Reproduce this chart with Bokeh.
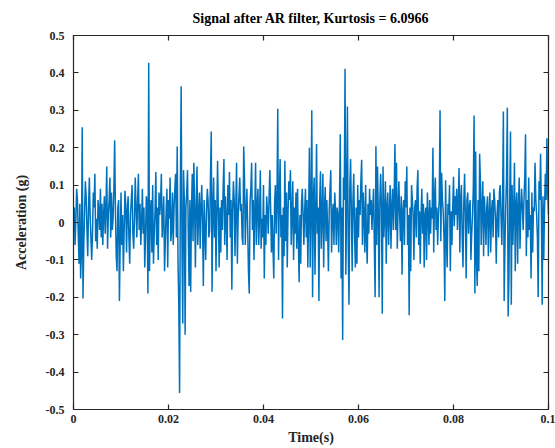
from bokeh.plotting import figure
from bokeh.models import Range1d, LinearAxis, FixedTicker, NumeralTickFormatter, CustomJSTickFormatter
from bokeh.embed import file_html
from bokeh.resources import INLINE
import numpy as np

TITLE = "Signal after AR filter, Kurtosis = 6.0966"
X_LABEL = "Time(s)"
Y_LABEL = "Acceleration (g)"
X_TICKS = [0, 0.02, 0.04, 0.06, 0.08, 0.1]
Y_TICKS = [-0.5, -0.4, -0.3, -0.2, -0.1, 0, 0.1, 0.2, 0.3, 0.4, 0.5]
SAMPLE_RATE = 6000  # Hz

# acceleration samples in milli-g
ACC_MG = [
    -20, 40, -60, 10, 90, 60, -30, -110, 50, -150, -80, 255, -203, -60, 30, 110, 70, -20, -90, 40,
    120, 20, -40, -100, -30, 80, 40, 130, -50, 10, -70, 60, 30, -20, 90, -40, 50, -60, 20, 70,
    -30, 40, 150, -70, 20, 60, 120, -40, 80, -20, 10, 90, 220, 30, -90, -130, 40, 60, -210, -50,
    80, -60, 20, -130, -20, 85, 50, -80, 30, 70, -40, -110, 20, 60, 100, -30, -70, 10, 120, 40,
    -40, 60, 130, -20, 50, -60, 0, 90, -30, 40, -120, -40, 70, 50, -190, 427, -130, 20, 60, -80,
    100, -110, -30, 30, 135, -60, 40, -100, 80, 20, 60, 130, -40, 10, 70, -130, -50, 30, 90, -120,
    60, 10, 120, -50, -20, 80, -60, 40, 90, 130, -40, 203, -100, -220, -456, 100, 364, -60, -270, 140,
    60, -300, 40, 80, 140, -30, -170, 60, -186, 30, 130, -50, 160, 40, -120, 50, 150, -60, 20, 80,
    -70, 40, 100, 0, -170, 60, -20, -100, 30, 90, 60, -40, -20, 120, 243, -185, 40, 120, -40, 60,
    -130, 30, 165, 20, -120, 40, -80, 60, -20, 90, 170, -60, 70, 10, -100, 100, 20, 135, -40, 60,
    -180, 30, 110, 60, -90, 40, 160, -110, 20, 70, 120, 30, 50, -40, -60, 203, 120, -60, 30, 90,
    -10, -130, -190, 50, 90, 160, -20, 60, -100, 30, 160, -60, 40, 90, -60, 20, 140, -70, 10, -40,
    100, -150, 20, -60, 70, 30, -30, 60, 140, 40, -80, 20, -70, -150, 50, 100, -30, 60, 304, -100,
    60, 170, -40, 20, -257, 40, -90, 165, -50, 80, -120, 30, 110, 60, 140, -60, 20, 110, -100, 40,
    -30, 80, -70, 90, -40, -160, 20, -110, 50, 90, 20, -60, 30, 90, -40, 60, -120, 20, 200, -120,
    40, 300, -200, 60, 120, -140, 20, 210, -30, 40, -210, 60, 137, -70, 20, 130, -120, 40, 95, -50,
    60, -20, -130, 30, 90, 140, -80, 20, 50, -60, 80, 30, -60, 40, 20, -80, 60, 236, -150, 40,
    -314, 120, 60, 411, -140, 60, 310, -60, -220, 90, 170, 30, -130, 60, 130, -20, -120, 40, -110, 100,
    -40, 60, 20, 110, 168, -60, 80, 20, -80, 100, -40, -110, 50, -30, 90, 20, 60, -20, 40, 90,
    -60, -200, 204, -60, 150, 30, -200, 60, 130, 40, -244, 150, -40, 20, 110, -110, 40, 80, -60, 20,
    100, -70, 40, 90, -20, 60, 210, -20, 160, -70, 40, 110, 20, -50, 70, -140, 30, 60, -60, 110,
    40, 150, -60, 20, -248, 40, -130, 100, 60, 20, -100, 40, 60, -40, 90, 140, -60, 30, -110, 20,
    90, -30, 50, -120, 20, 40, -100, 80, 20, -60, 60, -30, 40, 10, 200, -80, 60, 120, -20, 40,
    -60, 20, 60, 300, -50, 133, 60, 30, -40, -210, 113, -40, -120, 50, 20, 100, -130, 30, -60, 40,
    122, -10, 70, 20, 90, -20, 50, 146, -80, 60, 100, -40, -120, 50, 130, 20, -150, 60, 80, -30,
    40, 60, -100, -30, 20, 90, 286, -190, 190, -100, -170, 60, -130, 184, 110, -60, 40, 110, -90, 70,
    20, -60, 40, 70, -90, 20, 80, -80, 30, 60, -40, 90, 60, 10, -110, 20, 60, -40, 80, 100,
    20, -60, 50, 297, -210, -60, 40, 120, 307, -251, -150, 60, 243, -220, 100, -60, 30, 160, -130, 50,
    80, -110, 40, 120, -70, 30, 90, 40, -20, 60, 120, 236, -90, 60, -40, 120, -20, 20, -150, 80,
    -80, 40, 30, 160, 60, 20, -40, -200, 110, 60, 184, 30, -220, 70, -100, 40, 130, 60, 225, 80,
    20,
]

acc = np.array(ACC_MG) / 1000.0
t = np.arange(len(acc)) / SAMPLE_RATE

FONT = "Liberation Serif"
AX = "#262626"

p = figure(width=555, height=448, output_backend="svg", toolbar_location=None,
           x_range=Range1d(X_TICKS[0], X_TICKS[-1]), y_range=Range1d(Y_TICKS[0], Y_TICKS[-1]),
           min_border_left=73, min_border_right=7, min_border_top=35, min_border_bottom=39,
           background_fill_color="white", border_fill_color="white")

bottom = p.below[0]
left = p.left[0]

p.title.text = TITLE
p.title.text_font = FONT
p.title.text_font_size = "14px"
p.title.text_font_style = "bold"
p.title.align = "center"
p.title.vertical_align = "top"
p.title.text_color = "black"
p.title.standoff = 16

p.line(t, acc, line_color="#0072BD", line_width=1.5)

p.xgrid.visible = False
p.ygrid.visible = False
p.outline_line_color = AX

bottom.ticker = FixedTicker(ticks=X_TICKS)
bottom.formatter = NumeralTickFormatter(format="0.[00]")
left.ticker = FixedTicker(ticks=Y_TICKS)
left.formatter = NumeralTickFormatter(format="0.[0]")

blank = CustomJSTickFormatter(code="return '';")
top = LinearAxis(ticker=FixedTicker(ticks=X_TICKS), formatter=blank, major_label_standoff=0)
right = LinearAxis(ticker=FixedTicker(ticks=Y_TICKS), formatter=blank, major_label_standoff=0)
p.add_layout(top, "above")
p.add_layout(right, "right")

for ax in (bottom, left, top, right):
    ax.axis_line_color = AX
    ax.axis_line_width = 1.2
    ax.major_tick_line_color = AX
    ax.major_tick_line_width = 1.2
    ax.major_tick_in = 5
    ax.major_tick_out = 0
    ax.minor_tick_line_color = None
    ax.major_label_text_font = FONT
    ax.major_label_text_font_style = "bold"
    ax.major_label_text_color = AX

bottom.major_label_text_font_size = "12px"
left.major_label_text_font_size = "12px"
bottom.major_label_standoff = 5
left.major_label_standoff = 9

bottom.axis_label = X_LABEL
left.axis_label = Y_LABEL
for ax in (bottom, left):
    ax.axis_label_text_font = FONT
    ax.axis_label_text_font_size = "14px"
    ax.axis_label_text_font_style = "bold"
    ax.axis_label_text_color = AX
bottom.axis_label_standoff = 4
left.axis_label_standoff = 14

open("out.html", "w").write(file_html(p, INLINE))
